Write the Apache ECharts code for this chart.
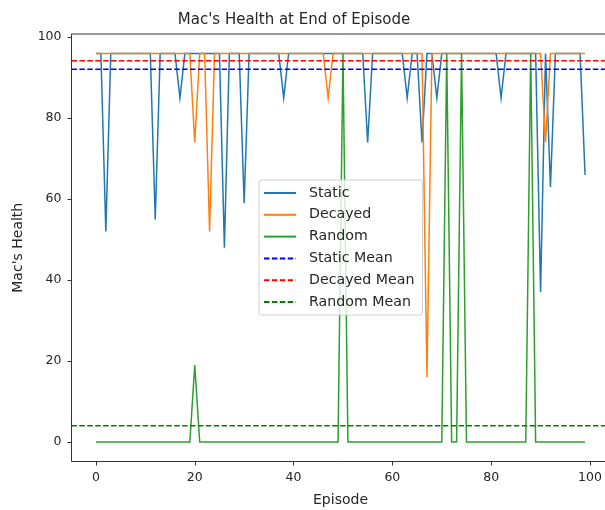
<!DOCTYPE html>
<html>
<head>
<meta charset="utf-8">
<script src="https://cdn.jsdelivr.net/npm/echarts@6/dist/echarts.min.js"></script>
<style>
  html, body { margin: 0; padding: 0; background: #ffffff; }
  #chart { width: 605px; height: 510px; }
</style>
</head>
<body>
<div id="chart"></div>
<script>
// Health at the end of each episode (episodes 0..99) for the three schedules
const staticHealth = [
  96, 96, 52, 96, 96, 96, 96, 96, 96, 96,
  96, 96, 55, 96, 96, 96, 96, 85, 96, 96,
  96, 96, 96, 96, 96, 96, 48, 96, 96, 96,
  59, 96, 96, 96, 96, 96, 96, 96, 85, 96,
  96, 96, 96, 96, 96, 96, 96, 96, 96, 96,
  96, 96, 96, 96, 96, 74, 96, 96, 96, 96,
  96, 96, 96, 85, 96, 96, 74, 96, 96, 85,
  96, 96, 96, 96, 96, 96, 96, 96, 96, 96,
  96, 96, 85, 96, 96, 96, 96, 96, 96, 96,
  37, 96, 63, 96, 96, 96, 96, 96, 96, 66
];
const decayedHealth = [
  96, 96, 96, 96, 96, 96, 96, 96, 96, 96,
  96, 96, 96, 96, 96, 96, 96, 96, 96, 96,
  74, 96, 96, 52, 96, 96, 96, 96, 96, 96,
  96, 96, 96, 96, 96, 96, 96, 96, 96, 96,
  96, 96, 96, 96, 96, 96, 96, 85, 96, 96,
  96, 96, 96, 96, 96, 96, 96, 96, 96, 96,
  96, 96, 96, 96, 96, 96, 96, 16, 96, 96,
  96, 96, 96, 96, 96, 96, 96, 96, 96, 96,
  96, 96, 96, 96, 96, 96, 96, 96, 96, 96,
  96, 74, 96, 96, 96, 96, 96, 96, 96, 96
];
const randomHealth = [
  0, 0, 0, 0, 0, 0, 0, 0, 0, 0,
  0, 0, 0, 0, 0, 0, 0, 0, 0, 0,
  19, 0, 0, 0, 0, 0, 0, 0, 0, 0,
  0, 0, 0, 0, 0, 0, 0, 0, 0, 0,
  0, 0, 0, 0, 0, 0, 0, 0, 0, 0,
  96, 0, 0, 0, 0, 0, 0, 0, 0, 0,
  0, 0, 0, 0, 0, 0, 0, 0, 0, 0,
  0, 96, 0, 0, 96, 0, 0, 0, 0, 0,
  0, 0, 0, 0, 0, 0, 0, 0, 96, 0,
  0, 0, 0, 0, 0, 0, 0, 0, 0, 0
];
const xTicks = [0, 20, 40, 60, 80, 100];
const yTicks = [0, 20, 40, 60, 80, 100];

const seriesNames = ['Static', 'Decayed', 'Random', 'Static Mean', 'Decayed Mean', 'Random Mean'];

// axis extents with 5% padding around the data
const xMin = -4.95, xMax = 103.95;
const yMin = -4.8, yMax = 100.8;

const mean = arr => arr.reduce((s, v) => s + v, 0) / arr.length;
const toPoints = arr => arr.map((v, i) => [i, v]);
const hLine = v => [[xMin, v], [xMax, v]];

const FONT = 'DejaVu Sans';
const TEXT = '#262626';

const chart = echarts.init(document.getElementById('chart'), null, { renderer: 'canvas' });

function lineSeries(name, data, color, dashed) {
  return {
    name: name,
    type: 'line',
    data: data,
    symbol: 'none',
    silent: true,
    animation: false,
    clip: true,
    lineStyle: { color: color, width: 1.5, type: dashed ? [5.5, 2.4] : 'solid', cap: 'butt', join: 'miter' },
    itemStyle: { color: color }
  };
}

chart.setOption({
  animation: false,
  backgroundColor: '#ffffff',
  textStyle: { fontFamily: FONT },
  title: {
    text: "Mac's Health at End of Episode",
    left: 289, top: 8, textAlign: 'center',
    textStyle: { fontFamily: FONT, fontSize: 15, fontWeight: 'normal', color: TEXT }
  },
  grid: {
    left: 71.5, top: 34, width: 538, height: 427.5,
    containLabel: false,
    outerBoundsMode: 'none',
    show: true, borderColor: '#333', borderWidth: 1, backgroundColor: 'transparent'
  },
  legend: {
    orient: 'vertical',
    left: 259, top: 180,
    data: seriesNames,
    itemWidth: 32, itemHeight: 14, itemGap: 7.8,
    padding: [6, 8, 6, 4],
    borderColor: '#d0d0d0', borderWidth: 1, borderRadius: 3,
    backgroundColor: 'rgba(255,255,255,0.8)',
    itemStyle: { opacity: 0 },
    textStyle: { fontFamily: FONT, fontSize: 14.2, color: TEXT, padding: [0, 0, 0, 8] },
    selectedMode: false
  },
  xAxis: {
    type: 'value', min: xMin, max: xMax,
    name: 'Episode', nameLocation: 'middle', nameGap: 32,
    nameTextStyle: { fontFamily: FONT, fontSize: 14, color: TEXT },
    axisLine: { show: false, onZero: false },
    axisTick: { show: true, inside: false, length: 4, customValues: xTicks, lineStyle: { color: '#333' } },
    axisLabel: { customValues: xTicks, fontFamily: FONT, fontSize: 12.5, color: TEXT, margin: 10 },
    splitLine: { show: false }
  },
  yAxis: {
    type: 'value', min: yMin, max: yMax,
    name: "Mac's Health", nameLocation: 'middle', nameGap: 46, nameRotate: 90,
    nameTextStyle: { fontFamily: FONT, fontSize: 14, color: TEXT },
    axisLine: { show: false, onZero: false },
    axisTick: { show: true, inside: false, length: 4, customValues: yTicks, lineStyle: { color: '#333' } },
    axisLabel: { customValues: yTicks, fontFamily: FONT, fontSize: 12.5, color: TEXT, margin: 10 },
    splitLine: { show: false }
  },
  series: [
    lineSeries('Static', toPoints(staticHealth), '#1f77b4', false),
    lineSeries('Decayed', toPoints(decayedHealth), '#ff7f0e', false),
    lineSeries('Random', toPoints(randomHealth), '#2ca02c', false),
    lineSeries('Static Mean', hLine(mean(staticHealth)), '#0000ff', true),
    lineSeries('Decayed Mean', hLine(mean(decayedHealth)), '#ff0000', true),
    lineSeries('Random Mean', hLine(mean(randomHealth)), '#008000', true)
  ]
});
</script>
</body>
</html>
